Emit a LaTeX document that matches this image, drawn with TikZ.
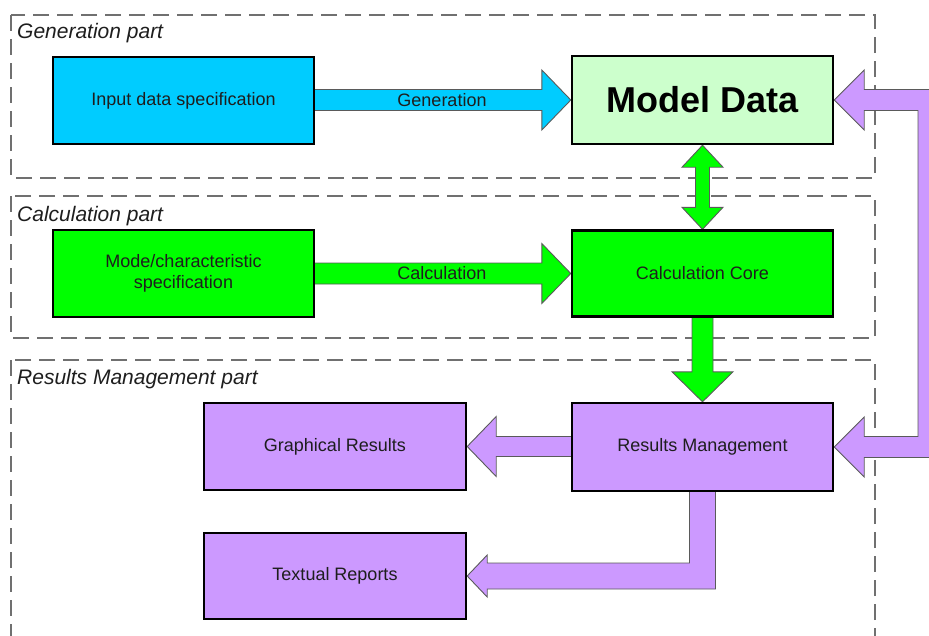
\documentclass[tikz,border=0pt]{standalone}
\usepackage{fontspec}
\setmainfont{Liberation Sans}
\usetikzlibrary{calc}
\pgfdeclarelayer{bg}
\pgfsetlayers{bg,main}
\definecolor{cyanbox}{HTML}{00CCFF}
\definecolor{lightgreen}{HTML}{CCFFCC}
\definecolor{brightgreen}{HTML}{00FF00}
\definecolor{lilac}{HTML}{CC99FF}
\definecolor{dashgray}{HTML}{707070}
\definecolor{outlinegray}{HTML}{5A5A5A}
\definecolor{txt}{HTML}{1E1E1E}
\begin{document}
\begin{tikzpicture}[x=1pt,y=-1pt,
  box/.style={draw=black,line width=2.4pt,minimum width=#1,inner sep=0pt,align=center,text=txt,font=\fontsize{18}{21}\selectfont},
  box/.default=261pt,
  region/.style={draw=dashgray,line width=1.3pt,dash pattern=on 16pt off 8pt},
  regionlabel/.style={anchor=base west,inner sep=0pt,text=txt,font=\fontsize{21}{24}\selectfont\itshape},
  blockarrow/.style={draw=outlinegray,line width=0.9pt,line join=miter,fill=#1},
  arrowlabel/.style={inner sep=0pt,text=txt,font=\fontsize{18}{21}\selectfont}]
\useasboundingbox (0,0) rectangle (929,635);

% regions
\node[regionlabel] (lgen) at (17,38.5) {Generation part};
\node[regionlabel] (lcal) at (17,221) {Calculation part};
\node[regionlabel] (lres) at (17,384) {Results Management part};

% nodes
\node[box,fill=cyanbox,minimum height=87pt] (inp) at (183.5,100.5) {Input data specification};
\node[box,fill=lightgreen,minimum height=88pt,font=\fontsize{36}{40}\selectfont\bfseries,text=black] (md) at (702.5,100) {Model Data};
\node[box,fill=brightgreen,minimum height=87pt] (mode) at (183.5,273.5) {Mode/characteristic\\specification};
\node[box,fill=brightgreen,minimum height=86pt] (cc) at (702.5,273.5) {Calculation Core};
\node[box,fill=lilac,minimum height=88pt] (rm) at (702.5,447) {Results Management};
\node[box=262pt,fill=lilac,minimum height=87pt] (gr) at (335,446.5) {Graphical Results};
\node[box=262pt,fill=lilac,minimum height=86pt] (tx) at (335,576) {Textual Reports};

\coordinate (loopin) at (918,0);
\coordinate (loopout) at (945,0);
\coordinate (elbow) at (rm.south |- tx.east);

\begin{pgfonlayer}{bg}
\draw[region] (11,15) rectangle (875,178);
\draw[region] (11,196) rectangle (875,338);
\draw[region] (11,360) rectangle (875,670);
% Generation arrow
\draw[blockarrow=cyanbox] ($(inp.east|-md.west)+(-4,-10.5)$) -- ($(md.west)+(-29,-10.5)$) -- ($(md.west)+(-29,-30)$) -- (md.west) -- ($(md.west)+(-29,30)$) -- ($(md.west)+(-29,10.5)$) -- ($(inp.east|-md.west)+(-4,10.5)$);
% Calculation arrow
\draw[blockarrow=brightgreen] ($(mode.east|-cc.west)+(-4,-10.5)$) -- ($(cc.west)+(-29,-10.5)$) -- ($(cc.west)+(-29,-30)$) -- (cc.west) -- ($(cc.west)+(-29,30)$) -- ($(cc.west)+(-29,10.5)$) -- ($(mode.east|-cc.west)+(-4,10.5)$);
% double arrow Model Data <-> Calculation Core
\draw[blockarrow=brightgreen] (md.south) -- ($(md.south)+(20.5,22)$) -- ($(md.south)+(7,22)$) -- ($(cc.north)+(7,-22)$) -- ($(cc.north)+(20.5,-22)$) -- (cc.north) -- ($(cc.north)+(-20.5,-22)$) -- ($(cc.north)+(-7,-22)$) -- ($(md.south)+(-7,22)$) -- ($(md.south)+(-20.5,22)$) -- cycle;
% down arrow Calculation Core -> Results Management
\draw[blockarrow=brightgreen] ($(cc.south)+(-10.5,-4)$) -- ($(rm.north)+(-10.5,-30)$) -- ($(rm.north)+(-30.5,-30)$) -- (rm.north) -- ($(rm.north)+(30.5,-30)$) -- ($(rm.north)+(10.5,-30)$) -- ($(cc.south)+(10.5,-4)$);
% Results Management -> Graphical Results
\draw[blockarrow=lilac] ($(rm.west|-gr.east)+(4,-10)$) -- ($(gr.east)+(29,-10)$) -- ($(gr.east)+(29,-30)$) -- (gr.east) -- ($(gr.east)+(29,30)$) -- ($(gr.east)+(29,10)$) -- ($(rm.west|-gr.east)+(4,10)$);
% Results Management -> Textual Reports (elbow)
\draw[blockarrow=lilac] ($(rm.south)+(-13,-4)$) -- ($(elbow)+(-13,-13)$) -- ($(tx.east)+(20,-13)$) -- ($(tx.east)+(20,-21)$) -- (tx.east) -- ($(tx.east)+(20,21)$) -- ($(tx.east)+(20,13)$) -- ($(elbow)+(13,13)$) -- ($(rm.south)+(13,-4)$);
% loop Results Management <-> Model Data
\draw[blockarrow=lilac] (md.east) -- ($(md.east)+(30,-30)$) -- ($(md.east)+(30,-10.5)$) -- ($(loopout|-md.east)+(0,-10.5)$) -- ($(loopout|-rm.east)+(0,10.5)$) -- ($(rm.east)+(30,10.5)$) -- ($(rm.east)+(30,30)$) -- (rm.east) -- ($(rm.east)+(30,-30)$) -- ($(rm.east)+(30,-10.5)$) -- ($(loopin|-rm.east)+(0,-10.5)$) -- ($(loopin|-md.east)+(0,10.5)$) -- ($(md.east)+(30,10.5)$) -- ($(md.east)+(30,30)$) -- cycle;
\end{pgfonlayer}

% arrow labels
\node[arrowlabel] (lg) at (442,100) {Generation};
\node[arrowlabel] (lc) at (442,273) {Calculation};

\end{tikzpicture}
\end{document}
